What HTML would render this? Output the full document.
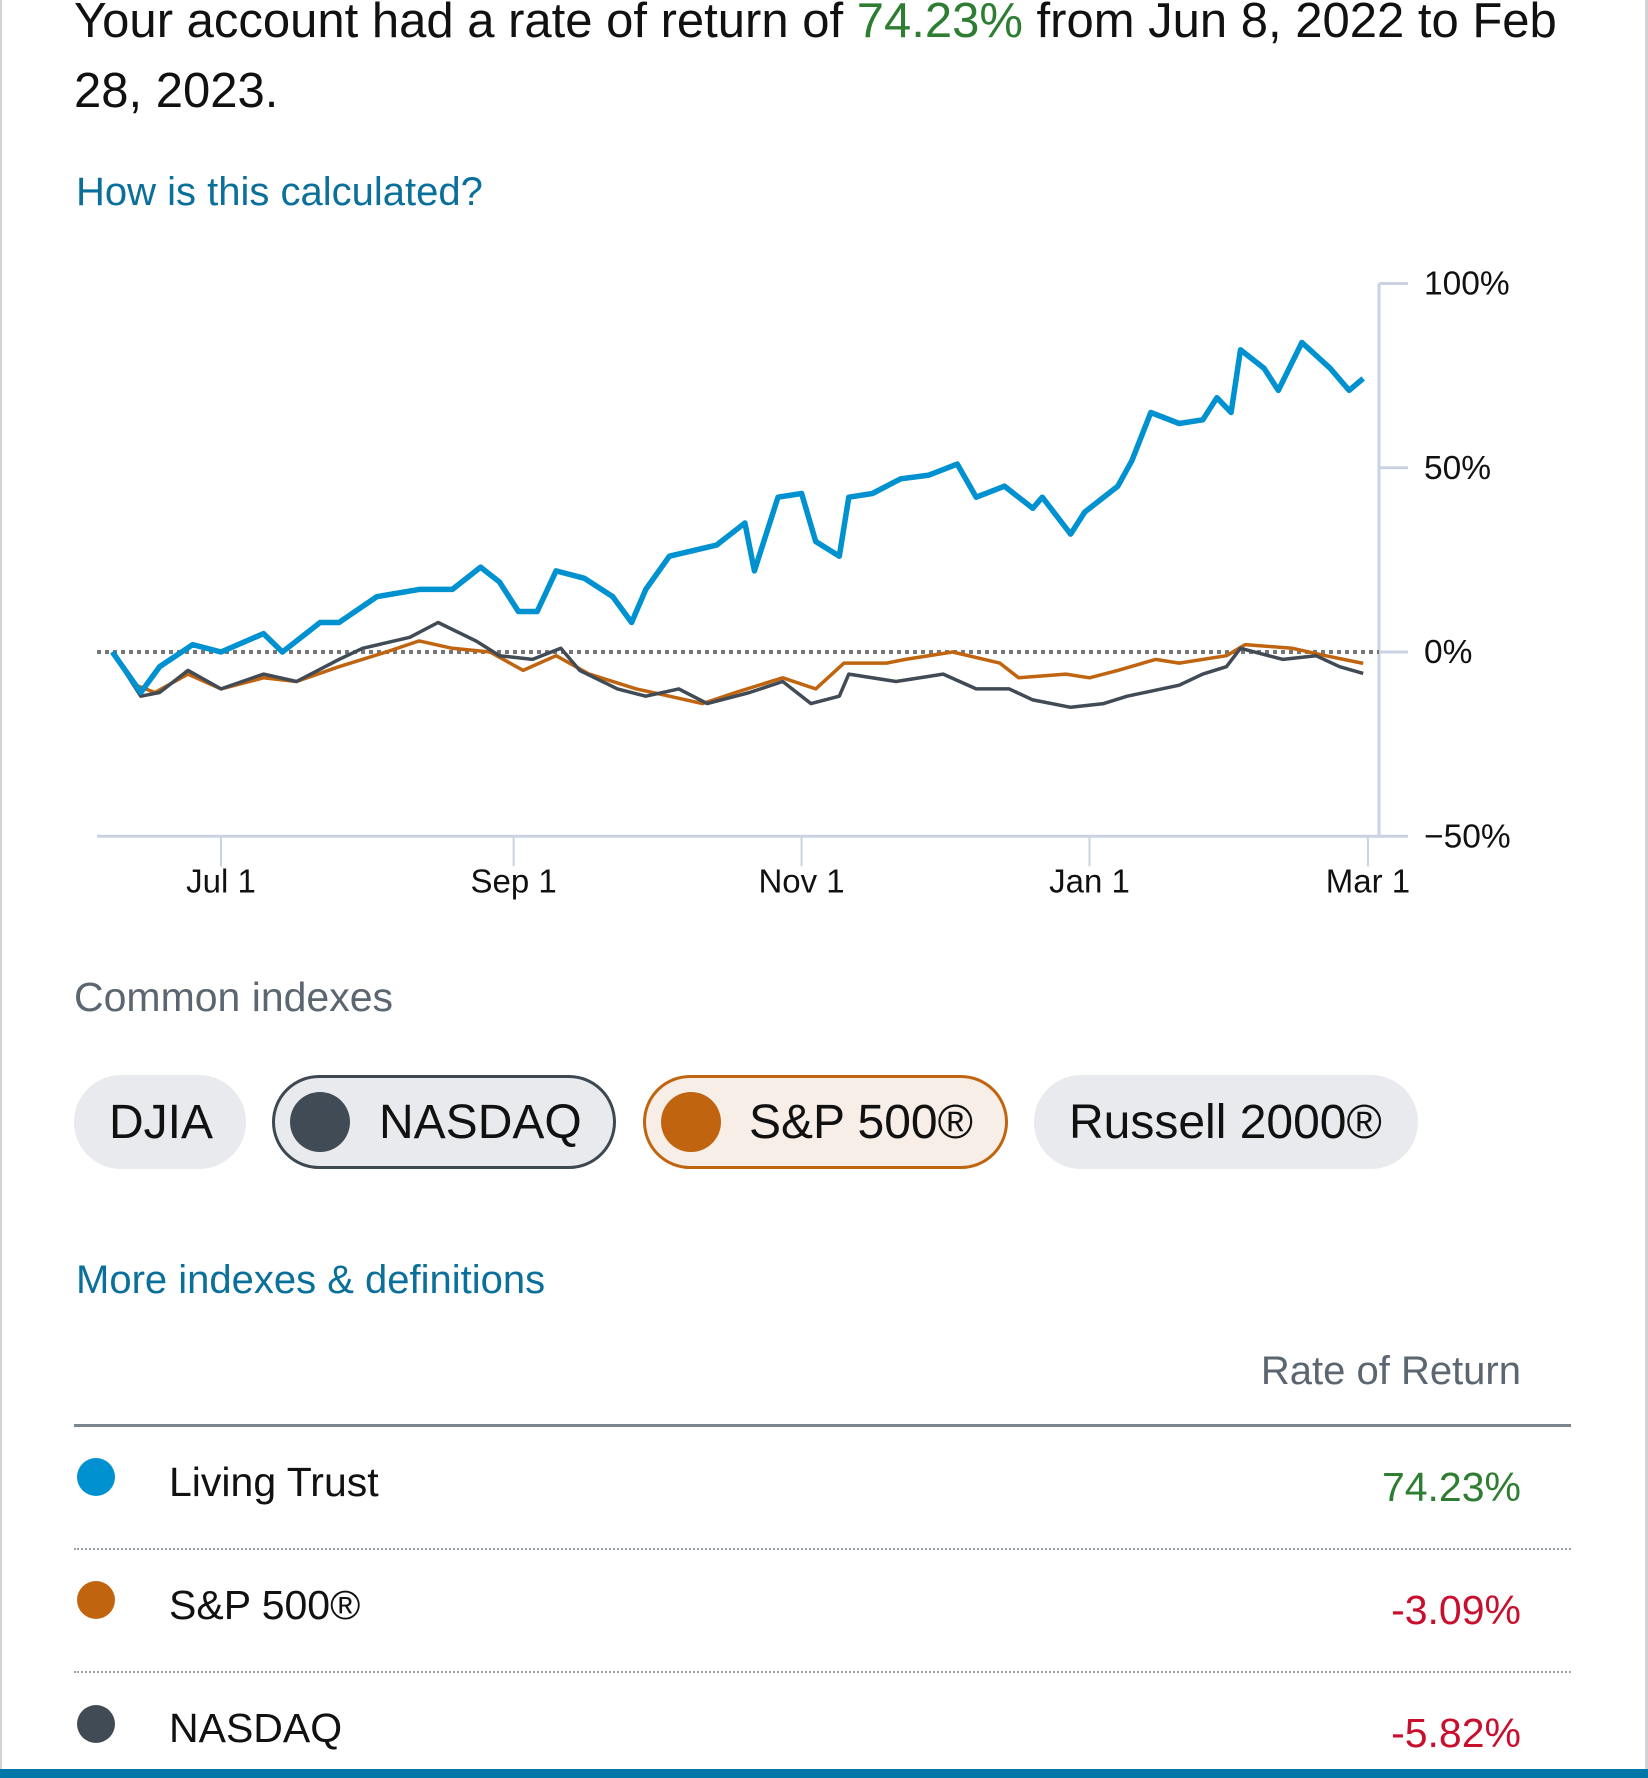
<!DOCTYPE html>
<html><head><meta charset="utf-8">
<style>
html,body{margin:0;padding:0;background:#fff;}
body{width:1648px;height:1778px;position:relative;overflow:hidden;font-family:"Liberation Sans",Arial,sans-serif;}
.abs{position:absolute;white-space:nowrap;}
.chip{position:absolute;top:1075px;height:94px;border-radius:47px;background:#e8eaed;box-sizing:border-box;font-size:48px;color:#111;display:flex;align-items:center;}
.chip .dot{width:60px;height:60px;border-radius:50%;position:absolute;left:18px;top:15px;}
.row-dot{position:absolute;width:38px;height:38px;border-radius:50%;left:77px;}
.rowtxt{position:absolute;left:169px;font-size:41px;color:#111;}
.rowval{position:absolute;right:127px;font-size:41px;}
</style></head>
<body>
<div style="position:absolute;left:0;top:0;width:2px;height:1778px;background:#d0d4d8"></div>
<div style="position:absolute;left:1645px;top:0;width:3px;height:1778px;background:#d0d4d8"></div>

<div class="abs" style="left:74px;top:-14px;font-size:49px;line-height:70px;color:#111;white-space:normal;width:1560px">Your account had a rate of return of <span style="color:#2e7d32">74.23%</span> from Jun 8, 2022 to Feb<br>28, 2023.</div>

<div class="abs" style="left:76px;top:170px;font-size:40px;color:#0a6f9a">How is this calculated?</div>

<svg id="chart" style="position:absolute;left:0;top:230px" width="1648" height="700"></svg>

<div class="abs" style="left:74px;top:974px;font-size:41px;color:#5b6670">Common indexes</div>

<div class="chip" style="left:74px;width:172px;padding-left:35px">DJIA</div>
<div class="chip" style="left:272px;width:344px;border:3px solid #3e4852;padding-left:104px"><span class="dot" style="background:#414b55;left:15px;top:14px"></span>NASDAQ</div>
<div class="chip" style="left:643px;width:365px;border:3px solid #c0640f;background:#f7eee8;padding-left:103px"><span class="dot" style="background:#c0640f;left:15px;top:14px"></span>S&amp;P 500®</div>
<div class="chip" style="left:1034px;width:384px;padding-left:35px">Russell 2000®</div>

<div class="abs" style="left:76px;top:1258px;font-size:40px;color:#0a6f9a">More indexes &amp; definitions</div>

<div class="abs" style="right:127px;top:1349px;font-size:40px;color:#5b6670">Rate of Return</div>
<div style="position:absolute;left:74px;top:1424px;width:1497px;height:3px;background:#7a858e"></div>

<div class="row-dot" style="top:1458px;background:#0091d0"></div>
<div class="rowtxt" style="top:1459px">Living Trust</div>
<div class="rowval" style="top:1464px;color:#2e7d32">74.23%</div>
<div style="position:absolute;left:74px;top:1548px;width:1497px;border-top:2px dotted #9aa3aa"></div>

<div class="row-dot" style="top:1581px;background:#c0640f"></div>
<div class="rowtxt" style="top:1582px">S&amp;P 500®</div>
<div class="rowval" style="top:1587px;color:#c8102e">-3.09%</div>
<div style="position:absolute;left:74px;top:1671px;width:1497px;border-top:2px dotted #9aa3aa"></div>

<div class="row-dot" style="top:1705px;background:#414b55"></div>
<div class="rowtxt" style="top:1705px">NASDAQ</div>
<div class="rowval" style="top:1710px;color:#c8102e">-5.82%</div>

<div style="position:absolute;left:0;top:1769px;width:1648px;height:9px;background:#0077a8"></div>

<script>
// days since Jun 8, 2022 and percent returns
const trustDays = [0,6,10,17,23,32,36,44,48,56,65,72,78,82,86,90,94,100,106,110,113,118,128,134,136,141,146,149,154,156,161,167,173,179,183,189,195,197,203,206,213,216,220,226,231,234,237,239,244,247,252,258,262,265];
const trustVals = [0,-11,-4,2,0,5,0,8,8,15,17,17,23,19,11,11,22,20,15,8,17,26,29,35,22,42,43,30,26,42,43,47,48,51,42,45,39,42,32,38,45,52,65,62,63,69,65,82,77,71,84,77,71,74.23];
const spDays = [0,5,9,16,23,32,39,48,58,65,72,80,87,94,101,111,118,125,132,142,149,155,164,168,178,188,192,202,207,213,221,226,236,240,250,257,265];
const spVals = [0,-9,-11,-6,-10,-7,-8,-4,0,3,1,0,-5,-1,-6,-10,-12,-14,-11,-7,-10,-3,-3,-2,0,-3,-7,-6,-7,-5,-2,-3,-1,2,1,-1,-3.09];
const ndDays = [0,6,10,16,23,32,39,48,53,63,69,77,82,89,95,99,107,113,120,126,135,142,148,154,156,166,176,183,190,195,203,210,215,226,231,236,239,248,255,260,265];
const ndVals = [0,-12,-11,-5,-10,-6,-8,-2,1,4,8,3,-1,-2,1,-5,-10,-12,-10,-14,-11,-8,-14,-12,-6,-8,-6,-10,-10,-13,-15,-14,-12,-9,-6,-4,1,-2,-1,-4,-5.82];
const yTicks = [100,50,0,-50];
const yTickLabels = ["100%","50%","0%","\u221250%"];
const xTickDays = [23,85,146,207,266];
const xTickLabels = ["Jul 1","Sep 1","Nov 1","Jan 1","Mar 1"];

const svg = document.getElementById('chart');
const NS = 'http://www.w3.org/2000/svg';
const OY = 230;
function xs(d){ return 221 + (d-23)*4.72; }
function ys(v){ return 652 - v*3.685 - OY; }
function mk(tag, attrs){ const e=document.createElementNS(NS,tag); for(const k in attrs) e.setAttribute(k,attrs[k]); svg.appendChild(e); return e; }

let e;
e = mk('line',{x1:97,x2:1379,y1:ys(-50),y2:ys(-50),stroke:'#c9d3e3','stroke-width':3});


e = mk('line',{x1:1379,x2:1379,y1:ys(100),y2:ys(-50),stroke:'#c9d3e3','stroke-width':3});


yTicks.forEach((t,i)=>{
  const y=ys(t);
  const tk = mk('line',{x1:1379,x2:1408,y1:y,y2:y,stroke:'#c9d3e3','stroke-width':3});
  
  
  const tx = mk('text',{x:1424,y:y+11,'font-size':33.5,fill:'#111','font-family':'Liberation Sans, sans-serif'});
  tx.textContent = yTickLabels[i];
  
  
});
xTickDays.forEach((d,i)=>{
  const x=xs(d);
  const tk = mk('line',{x1:x,x2:x,y1:ys(-50),y2:ys(-50)+30,stroke:'#c9d3e3','stroke-width':2});
  
  
  const tx = mk('text',{x:x,y:ys(-50)+56,'font-size':33,fill:'#111','text-anchor':'middle','font-family':'Liberation Sans, sans-serif'});
  tx.textContent = xTickLabels[i];
  
  
});
e = mk('line',{x1:97,x2:1379,y1:ys(0),y2:ys(0),stroke:'#777','stroke-width':4,'stroke-dasharray':'4 4'});



function series(days, vals, color, w, name){
  const pts = days.map((d,i)=>xs(d).toFixed(1)+','+ys(vals[i]).toFixed(1)).join(' ');
  const p = mk('polyline',{points:pts,fill:'none',stroke:color,'stroke-width':w,'stroke-linejoin':'round'});
  
  
}
series(spDays, spVals, '#c0640f', 3.5, 'sp500-line');
series(ndDays, ndVals, '#414b55', 3.5, 'nasdaq-line');
series(trustDays, trustVals, '#0091d0', 5.5, 'living-trust-line');
</script>
</body></html>
